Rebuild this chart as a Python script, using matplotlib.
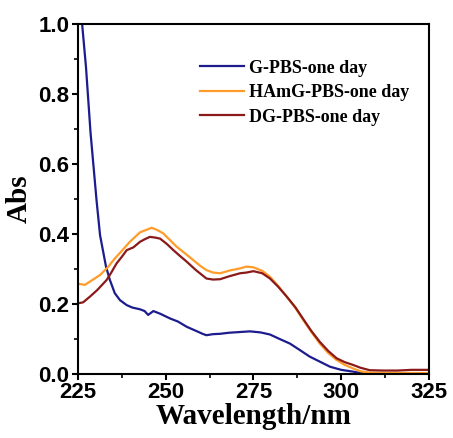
import matplotlib
matplotlib.use("Agg")
import matplotlib.pyplot as plt
from matplotlib.ticker import MultipleLocator

# G-PBS-one day
g_wl = [225, 226.2, 227.3, 228.6, 230.3, 231.3, 233, 234.1, 235.5, 237, 238.9, 240.5, 242.7, 244, 245, 246.5,
        248.5, 251.2, 253.5, 256, 258.5, 260.5, 261.6, 263.5, 265.5, 268, 271, 274, 277, 279.7, 282.5,
        285.4, 288, 291, 294, 296.8, 300, 303.3, 306, 310, 315, 320, 325]
g_abs = [1.08, 1.0, 0.877, 0.689, 0.497, 0.397, 0.307, 0.269, 0.231, 0.211, 0.197, 0.19, 0.185, 0.18, 0.169, 0.18,
         0.172, 0.159, 0.15, 0.135, 0.124, 0.115, 0.111, 0.114, 0.115, 0.118, 0.12, 0.122, 0.119, 0.113, 0.1,
         0.087, 0.07, 0.05, 0.035, 0.021, 0.012, 0.007, 0.002, 0.0, 0.0, 0.0, 0.0]

# HAmG-PBS-one day
h_wl = [225, 227, 229, 231.3, 233.5, 235.5, 237.5, 239.8, 242.7, 244.5, 246, 247.5, 249.3, 251, 253.1, 255.5,
        257.8, 260, 261.6, 263.5, 265.5, 268.3, 271.2, 273, 275, 277.5, 279.7, 282, 284.5, 287, 289.2, 291.5,
        293.9, 296.3, 298.7, 301, 303.4, 305.5, 308.1, 312, 316, 320, 325]
h_abs = [0.258, 0.255, 0.268, 0.283, 0.305, 0.33, 0.352, 0.378, 0.405, 0.412, 0.418, 0.412, 0.402, 0.385, 0.364, 0.345,
         0.326, 0.308, 0.297, 0.29, 0.288, 0.296, 0.302, 0.307, 0.305, 0.295, 0.278, 0.252, 0.221, 0.188, 0.154, 0.12,
         0.087, 0.06, 0.04, 0.026, 0.016, 0.008, 0.004, 0.003, 0.003, 0.003, 0.003]

# DG-PBS-one day
d_wl = [225, 226.5, 228.4, 230.5, 233.2, 234.5, 236, 237.5, 238.9, 240.8, 242.7, 244, 245.5, 247, 248.4, 250.3,
        252.2, 254, 256, 258.5, 261.6, 263.5, 265.5, 268.3, 271.2, 273, 275, 277.5, 279.7, 282, 284.5, 287,
        289.2, 291.5, 293.9, 296.3, 298.7, 301, 303.4, 305.5, 308.1, 312, 316, 320, 325]
d_abs = [0.202, 0.205, 0.221, 0.24, 0.269, 0.29, 0.316, 0.335, 0.354, 0.362, 0.378, 0.385, 0.392, 0.39, 0.387, 0.372,
         0.354, 0.338, 0.321, 0.298, 0.273, 0.27, 0.271, 0.28, 0.288, 0.29, 0.294, 0.288, 0.273, 0.25, 0.221, 0.19,
         0.157, 0.123, 0.092, 0.066, 0.045, 0.034, 0.026, 0.018, 0.011, 0.01, 0.01, 0.012, 0.012]

labels = ["G-PBS-one day", "HAmG-PBS-one day", "DG-PBS-one day"]
colors = ["#1c1c8e", "#ff9c2a", "#8a1a1a"]

fig = plt.figure(figsize=(4.53, 4.38), dpi=100)
ax = fig.add_axes([0.172, 0.146, 0.775, 0.799])

ax.plot(g_wl, g_abs, color=colors[0], lw=1.6, label=labels[0])
ax.plot(h_wl, h_abs, color=colors[1], lw=1.6, label=labels[1])
ax.plot(d_wl, d_abs, color=colors[2], lw=1.6, label=labels[2])

ax.set_xlim(225, 325)
ax.set_ylim(0, 1.0)
ax.xaxis.set_major_locator(MultipleLocator(25))
ax.xaxis.set_minor_locator(MultipleLocator(12.5))
ax.yaxis.set_major_locator(MultipleLocator(0.2))
ax.yaxis.set_minor_locator(MultipleLocator(0.1))
ax.yaxis.set_major_formatter(matplotlib.ticker.FormatStrFormatter("%.1f"))

for s in ax.spines.values():
    s.set_linewidth(1.5)
ax.tick_params(which="major", direction="out", length=4, width=1.5)
ax.tick_params(which="minor", direction="out", length=3, width=1.2)
for lab in ax.get_xticklabels() + ax.get_yticklabels():
    lab.set_fontfamily("Liberation Sans")
    lab.set_fontweight("bold")
    lab.set_fontsize(16)
ax.tick_params(axis="both", pad=2)

ax.set_xlabel("Wavelength/nm", fontfamily="Liberation Serif", fontweight="bold", fontsize=21, labelpad=0)
ax.set_ylabel("Abs", fontfamily="Liberation Serif", fontweight="bold", fontsize=21, labelpad=4)

leg = ax.legend(loc="upper right", bbox_to_anchor=(0.99, 0.945), frameon=False,
                prop={"family": "Liberation Serif", "weight": "bold", "size": 13},
                handlelength=2.4, handletextpad=0.3, labelspacing=0.42)

fig.savefig("out.png", dpi=100)
